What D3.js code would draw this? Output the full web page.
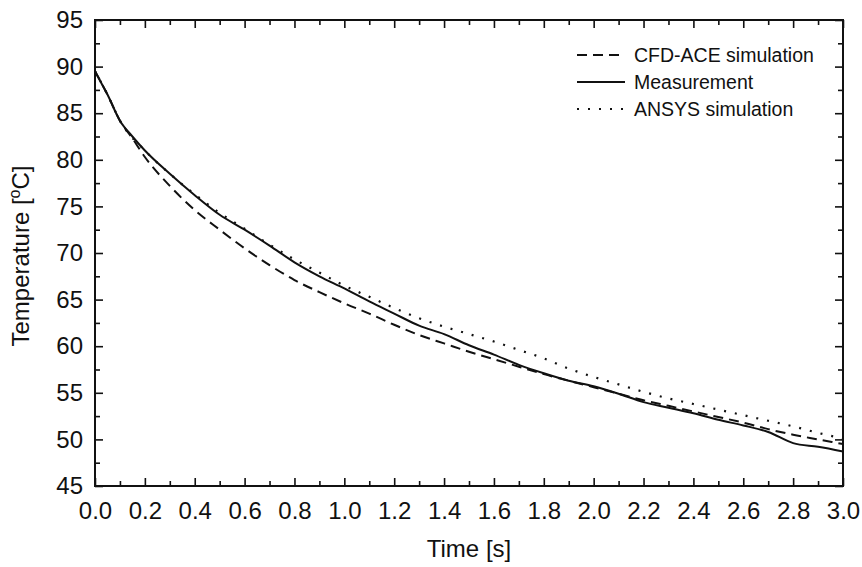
<!DOCTYPE html>
<html>
<head>
<meta charset="utf-8">
<script src="https://cdn.jsdelivr.net/npm/d3@7/dist/d3.min.js"></script>
<style>
  html, body { margin: 0; padding: 0; background: #fff; }
  svg { display: block; }
  text { font-family: "Liberation Sans", Arial, sans-serif; fill: #111; }
</style>
</head>
<body>
<svg id="chart" width="862" height="567"></svg>
<script>
// ---- data ----
const measTime = [0, 0.02, 0.05, 0.1, 0.15, 0.2, 0.3, 0.4, 0.5, 0.6, 0.7, 0.8, 0.9, 1.0, 1.1, 1.2, 1.3, 1.4, 1.5, 1.6, 1.7, 1.8, 1.9, 2.0, 2.1, 2.2, 2.3, 2.4, 2.5, 2.6, 2.7, 2.8, 2.9, 3.0];
const measTemp = [89.5, 88.5, 87.0, 84.2, 82.5, 81.0, 78.5, 76.2, 74.1, 72.5, 70.8, 69.0, 67.5, 66.2, 64.8, 63.5, 62.2, 61.3, 60.1, 59.1, 58.0, 57.1, 56.3, 55.7, 54.9, 54.0, 53.4, 52.8, 52.1, 51.5, 50.8, 49.6, 49.2, 48.7];

const cfdTime = [0, 0.05, 0.1, 0.15, 0.2, 0.3, 0.4, 0.5, 0.6, 0.7, 0.8, 0.9, 1.0, 1.1, 1.2, 1.3, 1.4, 1.5, 1.6, 1.7, 1.8, 1.9, 2.0, 2.1, 2.2, 2.3, 2.4, 2.5, 2.6, 2.7, 2.8, 2.9, 3.0];
const cfdTemp = [89.5, 87.0, 84.2, 82.3, 80.3, 77.2, 74.6, 72.5, 70.5, 68.7, 67.1, 65.8, 64.6, 63.5, 62.3, 61.2, 60.3, 59.4, 58.6, 57.8, 57.0, 56.3, 55.6, 54.9, 54.2, 53.6, 53.0, 52.4, 51.8, 51.1, 50.5, 50.0, 49.5];

const ansysTime = [0, 0.05, 0.1, 0.2, 0.3, 0.4, 0.5, 0.6, 0.7, 0.8, 0.9, 1.0, 1.1, 1.2, 1.3, 1.4, 1.5, 1.6, 1.7, 1.8, 1.9, 2.0, 2.1, 2.2, 2.3, 2.4, 2.5, 2.6, 2.7, 2.8, 2.9, 3.0];
const ansysTemp = [89.5, 87.0, 84.2, 81.0, 78.5, 76.3, 74.3, 72.6, 70.9, 69.3, 67.9, 66.5, 65.3, 64.1, 63.0, 62.1, 61.3, 60.5, 59.6, 58.7, 57.6, 56.7, 55.9, 55.1, 54.4, 53.8, 53.2, 52.6, 52.0, 51.4, 50.7, 50.1];

const xMajorTicks = [0, 0.2, 0.4, 0.6, 0.8, 1.0, 1.2, 1.4, 1.6, 1.8, 2.0, 2.2, 2.4, 2.6, 2.8, 3.0];
const xMinorTicks = [0.1, 0.3, 0.5, 0.7, 0.9, 1.1, 1.3, 1.5, 1.7, 1.9, 2.1, 2.3, 2.5, 2.7, 2.9];
const yMajorTicks = [45, 50, 55, 60, 65, 70, 75, 80, 85, 90, 95];
const yMinorTicks = [47.5, 52.5, 57.5, 62.5, 67.5, 72.5, 77.5, 82.5, 87.5, 92.5];

const legendLabels = ["CFD-ACE simulation", "Measurement", "ANSYS simulation"];

// ---- layout ----
const L = 95, R = 843, T = 20, B = 486;
const svg = d3.select("#chart");
const x = d3.scaleLinear().domain([0, 3]).range([L, R]);
const y = d3.scaleLinear().domain([45, 95]).range([B, T]);

const MAJ = 8, MIN = 5;
function styleAxis(g) {
  g.select(".domain").remove();
  g.selectAll(".tick line").attr("stroke", "#111").attr("stroke-width", 1.6);
  g.selectAll("text").style("font-size", "24px").attr("fill", "#111");
}

// bottom
svg.append("g").attr("transform", `translate(0,${B})`)
  .call(d3.axisBottom(x).tickValues(xMajorTicks).tickFormat(d3.format(".1f")).tickSizeInner(-MAJ).tickSizeOuter(0).tickPadding(16))
  .call(styleAxis);
svg.append("g").attr("transform", `translate(0,${B})`)
  .call(d3.axisBottom(x).tickValues(xMinorTicks).tickFormat("").tickSizeInner(-MIN).tickSizeOuter(0))
  .call(styleAxis);
// top
svg.append("g").attr("transform", `translate(0,${T})`)
  .call(d3.axisTop(x).tickValues(xMajorTicks).tickFormat("").tickSizeInner(-MAJ).tickSizeOuter(0))
  .call(styleAxis);
svg.append("g").attr("transform", `translate(0,${T})`)
  .call(d3.axisTop(x).tickValues(xMinorTicks).tickFormat("").tickSizeInner(-MIN).tickSizeOuter(0))
  .call(styleAxis);
// left
svg.append("g").attr("transform", `translate(${L},0)`)
  .call(d3.axisLeft(y).tickValues(yMajorTicks).tickFormat(d3.format("d")).tickSizeInner(-MAJ).tickSizeOuter(0).tickPadding(12))
  .call(styleAxis);
svg.append("g").attr("transform", `translate(${L},0)`)
  .call(d3.axisLeft(y).tickValues(yMinorTicks).tickFormat("").tickSizeInner(-MIN).tickSizeOuter(0))
  .call(styleAxis);
// right
svg.append("g").attr("transform", `translate(${R},0)`)
  .call(d3.axisRight(y).tickValues(yMajorTicks).tickFormat("").tickSizeInner(-MAJ).tickSizeOuter(0))
  .call(styleAxis);
svg.append("g").attr("transform", `translate(${R},0)`)
  .call(d3.axisRight(y).tickValues(yMinorTicks).tickFormat("").tickSizeInner(-MIN).tickSizeOuter(0))
  .call(styleAxis);

// frame
svg.append("rect").attr("x", L).attr("y", T).attr("width", R - L).attr("height", B - T)
  .attr("fill", "none").attr("stroke", "#111").attr("stroke-width", 2);

// axis titles
svg.append("text").attr("x", (L + R) / 2).attr("y", 557).attr("text-anchor", "middle")
  .style("font-size", "24px").text("Time [s]");
const yt = svg.append("text").attr("transform", `translate(29,${(T + B) / 2 + 3}) rotate(-90)`)
  .attr("text-anchor", "middle").style("font-size", "24px");
yt.append("tspan").text("Temperature [");
yt.append("tspan").attr("dy", -9).style("font-size", "16px").text("o");
yt.append("tspan").attr("dy", 9).text("C]");

// lines
const line = d3.line().x(d => x(d[0])).y(d => y(d[1])).curve(d3.curveMonotoneX);
const series = [
  { t: cfdTime, v: cfdTemp, dash: "10,6", w: 2 },
  { t: measTime, v: measTemp, dash: null, w: 2 },
  { t: ansysTime, v: ansysTemp, dash: "2,9", w: 2.2 }
];
series.forEach(s => {
  svg.append("path").datum(s.t.map((t, i) => [t, s.v[i]]))
    .attr("d", line).attr("fill", "none").attr("stroke", "#111")
    .attr("stroke-width", s.w).attr("stroke-dasharray", s.dash);
});

// legend
const legY = [55, 82, 109];
series.forEach((s, i) => {
  svg.append("line").attr("x1", 577).attr("x2", 625).attr("y1", legY[i]).attr("y2", legY[i])
    .attr("stroke", "#111").attr("stroke-width", s.w).attr("stroke-dasharray", s.dash);
  svg.append("text").attr("x", 634).attr("y", legY[i]).attr("dy", "0.35em")
    .style("font-size", "19.5px").text(legendLabels[i]);
});
</script>
</body>
</html>
